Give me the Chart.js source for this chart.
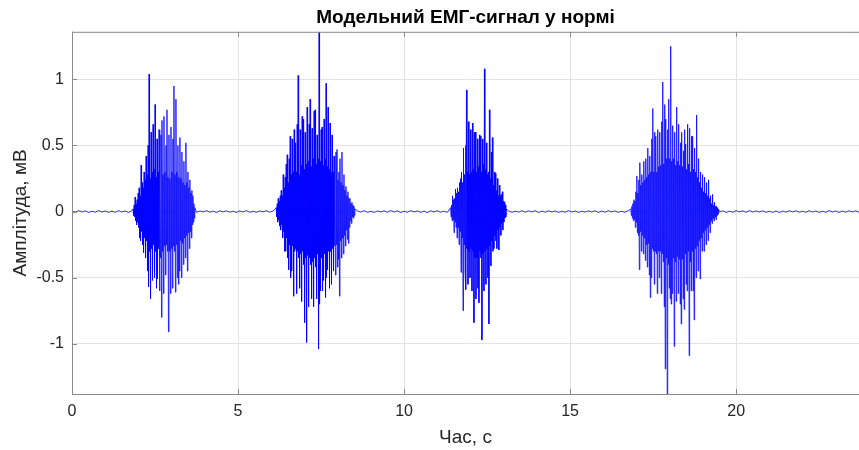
<!DOCTYPE html>
<html>
<head>
<meta charset="utf-8">
<script src="https://cdn.jsdelivr.net/npm/chart.js@4"></script>
<style>
  html, body { margin: 0; padding: 0; background: #fff; }
  #wrap { width: 859px; height: 450px; }
</style>
</head>
<body>
<div id="wrap"><canvas id="emg" width="859" height="450"></canvas></div>
<script>
// Модельний ЕМГ-сигнал: спокій між чотирма спалахами активності
// кожен відрізок — рівномірні відліки: початок (с), крок (с), амплітуди (мВ)

const quiet0 = [0.004,-0.005,0.007,-0.003,0.006,-0.007,0.003,-0.005,0.008,-0.004,
  0.005,-0.006,0.003,-0.006,0.007,-0.003,0.005,-0.007,0.006];

const burst1 = [
  0.02,-0.03, 0.05,-0.04, 0.11,-0.07, 0.06,-0.10, 0.09,-0.08,
  0.14,-0.12, 0.18,-0.20, 0.12,-0.22, 0.35,-0.15, 0.22,-0.25,
  0.18,-0.31, 0.30,-0.20, 0.24,-0.35, 0.42,-0.22, 0.28,-0.45,
  0.50,-0.57, 1.04,-0.30, 0.25,-0.66, 0.60,-0.28, 0.30,-0.52,
  0.66,-0.25, 0.32,-0.50, 0.81,-0.30, 0.26,-0.58, 0.55,-0.51,
  0.30,-0.28, 0.62,-0.60, 0.24,-0.35, 0.58,-0.80, 0.69,-0.30,
  0.28,-0.62, 0.72,-0.26, 0.30,-0.48, 0.50,-0.25, 0.77,-0.30,
  0.26,-0.91, 0.58,-0.30, 0.25,-0.62, 0.64,-0.28, 0.30,-0.58,
  0.55,-0.26, 0.95,-0.30, 0.28,-0.61, 0.85,-0.25, 0.30,-0.50,
  0.50,-0.55, 0.26,-0.45, 0.56,-0.22, 0.25,-0.50, 0.45,-0.24,
  0.22,-0.40, 0.38,-0.20, 0.20,-0.35, 0.52,-0.18, 0.22,-0.45,
  0.30,-0.16, 0.18,-0.28, 0.24,-0.15, 0.14,-0.20, 0.16,-0.10,
  0.12,-0.08, 0.06,-0.05, 0.03];

const quiet1 = [-0.006,0.005,-0.003,0.007,-0.005,0.004,-0.008,0.006,-0.003,0.006,
  -0.005,0.003,-0.007,0.005,-0.004,0.008,-0.006,0.003,-0.006,0.005,
  -0.003,0.007,-0.005,0.004];

const burst2 = [
  0.03,-0.04, 0.06,-0.08, 0.10,-0.06, 0.08,-0.11, 0.12,-0.14,
  0.16,-0.10, 0.12,-0.20, 0.28,-0.15, 0.18,-0.30, 0.26,-0.30,
  0.36,-0.20, 0.43,-0.35, 0.22,-0.44, 0.40,-0.25, 0.57,-0.50,
  0.28,-0.45, 0.55,-0.26, 0.30,-0.64, 0.62,-0.30, 0.52,-0.28,
  0.30,-0.62, 0.66,-0.30, 1.03,-0.35, 0.28,-0.58, 0.62,-0.32,
  0.35,-0.68, 0.72,-0.30, 0.70,-0.40, 0.32,-0.84, 0.60,-0.35,
  0.36,-0.99, 0.79,-0.33, 0.38,-0.72, 0.66,-0.35, 0.85,-0.40,
  0.34,-0.66, 0.63,-0.38, 0.40,-0.72, 0.76,-0.35, 0.77,-0.42,
  0.36,-0.66, 0.58,-0.32, 0.40,-1.04, 1.36,-0.70, 0.38,-0.60,
  0.62,-0.35, 0.64,-0.60, 0.35,-0.52, 0.70,-0.32, 0.40,-0.65,
  0.97,-0.50, 0.34,-0.44, 0.79,-0.30, 0.32,-0.58, 0.67,-0.30,
  0.30,-0.55, 0.58,-0.28, 0.30,-0.45, 0.42,-0.26, 0.28,-0.48,
  0.45,-0.25, 0.47,-0.42, 0.24,-0.36, 0.30,-0.64, 0.40,-0.22,
  0.22,-0.35, 0.45,-0.20, 0.20,-0.32, 0.28,-0.18, 0.16,-0.26,
  0.19,-0.14, 0.12,-0.21, 0.15,-0.24, 0.10,-0.12, 0.10,-0.07,
  0.06,-0.09, 0.07,-0.04, 0.05,-0.05, 0.04,-0.03, 0.02];

const quiet2 = [0.005,-0.004,0.007,-0.006,0.003,-0.007,0.005,-0.003,0.006,-0.005,
  0.008,-0.004,0.006,-0.007,0.003,-0.005,0.007,-0.003,0.005,-0.006,
  0.004,-0.008,0.006,-0.003,0.007,-0.005,0.003,-0.006];

const burst3 = [
  0.03,-0.04, 0.05,-0.07, 0.12,-0.06, 0.09,-0.16, 0.10,-0.08,
  0.17,-0.12, 0.14,-0.20, 0.18,-0.12, 0.15,-0.25, 0.22,-0.15,
  0.25,-0.46, 0.30,-0.20, 0.22,-0.75, 0.48,-0.25, 0.28,-0.45,
  0.50,-0.59, 0.92,-0.28, 0.30,-0.55, 0.68,-0.30, 0.28,-0.50,
  0.62,-0.28, 0.30,-0.60, 0.67,-0.30, 0.32,-0.84, 0.60,-0.35,
  0.60,-0.66, 0.30,-0.35, 0.55,-0.58, 0.34,-0.69, 0.58,-0.30,
  0.57,-0.35, 0.30,-0.97, 0.55,-0.32, 0.36,-0.60, 1.08,-0.30,
  0.32,-0.55, 0.52,-0.28, 0.28,-0.50, 0.30,-0.85, 0.77,-0.26,
  0.25,-0.41, 0.45,-0.22, 0.56,-0.30, 0.20,-0.28, 0.30,-0.18,
  0.29,-0.22, 0.16,-0.28, 0.25,-0.14, 0.12,-0.29, 0.20,-0.12,
  0.12,-0.18, 0.13,-0.09, 0.15,-0.14, 0.08,-0.08, 0.07,-0.05,
  0.05,-0.04, 0.02];

const quiet3 = [0.005,-0.006,0.003,-0.004,0.007,-0.005,0.006,-0.003,0.007,-0.008,
  0.004,-0.005,0.006,-0.003,0.005,-0.007,0.003,-0.006,0.008,-0.004,
  0.005,-0.007,0.003,-0.005,0.006,-0.003,0.006,-0.007,0.004,-0.005,
  0.007,-0.003,0.005,-0.006,0.003,-0.006,0.007];

const burst4 = [
  0.02,-0.03, 0.04,-0.05, 0.06,-0.07, 0.09,-0.06, 0.08,-0.12,
  0.15,-0.08, 0.27,-0.16, 0.14,-0.18, 0.24,-0.44, 0.37,-0.15,
  0.20,-0.30, 0.28,-0.18, 0.22,-0.32, 0.38,-0.20, 0.24,-0.37,
  0.40,-0.25, 0.26,-0.42, 0.48,-0.24, 0.28,-0.48, 0.42,-0.65,
  0.30,-0.50, 0.55,-0.28, 0.78,-0.30, 0.30,-0.55, 0.60,-0.30,
  0.57,-0.32, 0.30,-0.62, 0.62,-0.30, 0.34,-0.50, 0.60,-0.30,
  0.35,-0.62, 0.68,-0.32, 0.98,-0.38, 0.36,-0.72, 0.81,-1.19,
  0.70,-0.35, 0.40,-1.38, 0.62,-0.40, 0.85,-0.58, 0.40,-0.66,
  1.25,-0.70, 0.38,-0.62, 0.65,-0.35, 0.40,-1.02, 0.60,-0.38,
  0.35,-0.68, 0.79,-0.34, 0.38,-0.62, 0.66,-0.36, 0.35,-0.70,
  0.52,-0.85, 0.60,-0.36, 0.34,-0.66, 0.46,-0.74, 0.62,-0.32,
  0.51,-0.55, 0.32,-0.60, 0.66,-0.30, 0.36,-1.09, 0.63,-0.38,
  0.30,-0.60, 0.57,-0.30, 0.57,-0.60, 0.32,-0.82, 0.48,-0.28,
  0.30,-0.50, 0.73,-0.26, 0.26,-0.45, 0.40,-0.22, 0.22,-0.51,
  0.30,-0.20, 0.18,-0.30, 0.28,-0.16, 0.15,-0.30, 0.26,-0.14,
  0.14,-0.25, 0.22,-0.12, 0.12,-0.22, 0.24,-0.10, 0.10,-0.16,
  0.12,-0.07, 0.06,-0.09, 0.13,-0.05, 0.05,-0.07, 0.07,-0.04,
  0.04,-0.06, 0.04,-0.03, 0.03,-0.02, 0.02];

const quiet4 = [-0.004,0.006,-0.007,0.003,-0.005,0.007,-0.003,0.005,-0.006,0.008,
  -0.004,0.005,-0.003,0.006,-0.006,0.003,-0.007,0.005,-0.008,0.004,
  -0.005,0.007,-0.003,0.006,-0.005,0.003,-0.006,0.007,-0.004,0.005,
  -0.007,0.003,-0.006,0.008,-0.003,0.005,-0.007,0.004,-0.005,0.006,
  -0.003,0.006,-0.005];

const segValues = [quiet0, burst1, quiet1, burst2, quiet2, burst3, quiet3, burst4, quiet4];
const segStart  = [0, 1.84, 3.75, 6.15, 8.6, 11.40, 13.15, 16.83, 19.5];
const segStep   = [0.1, 0.015, 0.1, 0.015, 0.1, 0.015, 0.1, 0.015, 0.1];

const xTicks = [0, 5, 10, 15, 20];
const yTicks = [-1, -0.5, 0, 0.5, 1];

const points = [];
segValues.forEach((vals, s) => {
  vals.forEach((v, i) => points.push({ x: +(segStart[s] + i * segStep[s]).toFixed(4), y: v }));
});

// межі як у "axis tight"
const xMax = points[points.length - 1].x;
const yMin = Math.min(...points.map(p => p.y));
const yMax = Math.max(...points.map(p => p.y));

const FONT = "'Liberation Sans', Arial, Helvetica, sans-serif";
const FRAME = "#8a8a8a";
const TXT = "#262626";

// рамка + внутрішні засічки, як у MATLAB
const axesBox = {
  id: "axesBox",
  afterDraw(chart) {
    const { ctx, chartArea: a, scales } = chart;
    ctx.save();
    ctx.strokeStyle = FRAME;
    ctx.lineWidth = 1;
    ctx.beginPath();
    ctx.moveTo(a.left, a.top + 0.5); ctx.lineTo(a.right + 2, a.top + 0.5);
    ctx.moveTo(a.left + 0.5, a.top); ctx.lineTo(a.left + 0.5, a.bottom + 1);
    ctx.moveTo(a.left, a.bottom + 0.5); ctx.lineTo(a.right + 2, a.bottom + 0.5);
    xTicks.forEach(t => {
      const x = Math.round(scales.x.getPixelForValue(t)) + 0.5;
      ctx.moveTo(x, a.bottom); ctx.lineTo(x, a.bottom - 5);
      ctx.moveTo(x, a.top); ctx.lineTo(x, a.top + 5);
    });
    yTicks.forEach(t => {
      const y = Math.round(scales.y.getPixelForValue(t)) + 0.5;
      ctx.moveTo(a.left, y); ctx.lineTo(a.left + 5, y);
    });
    ctx.stroke();
    ctx.restore();
  },
};

new Chart(document.getElementById("emg"), {
  type: "line",
  data: {
    datasets: [{
      data: points,
      borderColor: "#0000ff",
      borderWidth: 0.8,
      pointRadius: 0,
      tension: 0,
      fill: false,
    }],
  },
  options: {
    responsive: false,
    animation: false,
    events: [],
    layout: { padding: 0 },
    plugins: {
      legend: { display: false },
      tooltip: { enabled: false },
      title: {
        display: true, fullSize: false,
        text: "Модельний ЕМГ-сигнал у нормі",
        color: "#000", font: { family: FONT, size: 19, weight: "bold" },
        padding: { top: 6, bottom: 3 },
      },
    },
    scales: {
      x: {
        type: "linear", min: 0, max: xMax,
        afterFit: (s) => { s.height = 56; },
        afterBuildTicks: (s) => { s.ticks = xTicks.map(v => ({ value: v })); },
        grid: { color: "#e2e2e2", drawTicks: false },
        border: { display: false },
        ticks: { color: TXT, padding: 8, font: { family: FONT, size: 16 }, callback: (v) => String(v) },
        title: {
          display: true, text: "Час, с", color: TXT,
          font: { family: FONT, size: 19 }, padding: { top: 0, bottom: 1 },
        },
      },
      y: {
        type: "linear", min: yMin, max: yMax,
        afterFit: (s) => { s.width = 72; },
        afterBuildTicks: (s) => { s.ticks = yTicks.map(v => ({ value: v })); },
        grid: { color: "#e2e2e2", drawTicks: false },
        border: { display: false },
        ticks: { color: TXT, padding: 8, font: { family: FONT, size: 16 }, callback: (v) => String(v) },
        title: {
          display: true, text: "Амплітуда, мВ", color: TXT,
          font: { family: FONT, size: 19 }, padding: { top: 9, bottom: 0 },
        },
      },
    },
  },
  plugins: [axesBox],
});
</script>
</body>
</html>
